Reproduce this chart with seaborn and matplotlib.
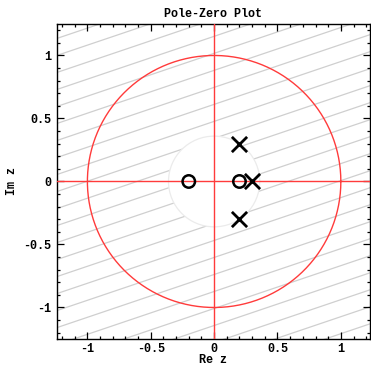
import matplotlib
matplotlib.use("Agg")
import matplotlib.pyplot as plt
import numpy as np
import pandas as pd
import seaborn as sns
from matplotlib.ticker import MultipleLocator

zeros_re = [-0.2, 0.2]
zeros_im = [0.0, 0.0]
poles_re = [0.3, 0.2, 0.2]
poles_im = [0.0, 0.3, -0.3]
roc_radius = 0.36
major_ticks = [-1, -0.5, 0, 0.5, 1]
tick_labels = ["-1", "-0.5", "0", "0.5", "1"]

frame = pd.DataFrame({
    "re": zeros_re + poles_re,
    "im": zeros_im + poles_im,
    "kind": ["zero"] * len(zeros_re) + ["pole"] * len(poles_re),
})

mono = {"family": "Liberation Mono", "weight": "bold"}
fsize = 8.5

fig = plt.figure(figsize=(3.71, 3.66), dpi=100)
ax = fig.add_axes([0.1536, 0.0738, 0.8437, 0.8607])
xlim = (-1.24, 1.23)
ylim = (-1.25, 1.25)

# region of convergence hatching (|z| > roc_radius)
slope = 0.34
gap = 0.135
xs = np.array([xlim[0] - 0.1, xlim[1] + 0.1])
for c in np.arange(1.287 - 22 * gap, 1.287 + 4 * gap, gap):
    ax.plot(xs, slope * xs + c, color="#cfcfcf", lw=0.9, zorder=1)
ax.add_patch(plt.Circle((0, 0), roc_radius, facecolor="white",
                        edgecolor="#ebebeb", lw=0.9, zorder=2))

# unit circle and axes
t = np.linspace(0, 2 * np.pi, 400)
ax.plot(np.cos(t), np.sin(t), color="#ff3b3b", lw=1.0, zorder=3)
ax.axhline(0, color="#ff3b3b", lw=1.0, zorder=3)
ax.axvline(0, color="#ff3b3b", lw=1.0, zorder=3)

sns.scatterplot(data=frame[frame["kind"] == "zero"], x="re", y="im", ax=ax,
                marker="o", s=80, facecolor="none", edgecolor="black",
                linewidth=1.8, zorder=5, legend=False)
sns.scatterplot(data=frame[frame["kind"] == "pole"], x="re", y="im", ax=ax,
                marker="x", s=120, color="black", linewidth=2.0,
                zorder=5, legend=False)

ax.set_xlim(*xlim)
ax.set_ylim(*ylim)
ax.set_xticks(major_ticks)
ax.set_xticklabels(tick_labels, fontdict=mono, fontsize=fsize)
ax.set_yticks(major_ticks)
ax.set_yticklabels(tick_labels, fontdict=mono, fontsize=fsize)
ax.xaxis.set_minor_locator(MultipleLocator(0.1))
ax.yaxis.set_minor_locator(MultipleLocator(0.1))
ax.tick_params(which="both", direction="in", top=True, right=True, width=0.9)
ax.tick_params(which="major", length=5)
ax.tick_params(axis="x", which="major", pad=3)
ax.tick_params(axis="y", which="major", pad=4)
ax.tick_params(which="minor", length=2.5)
for spine in ax.spines.values():
    spine.set_linewidth(1.0)

ax.set_xlabel("Re z", fontdict=mono, fontsize=fsize, labelpad=-1)
ax.set_ylabel("Im z", fontdict=mono, fontsize=fsize, labelpad=4)
ax.set_title("Pole-Zero Plot", fontdict=mono, fontsize=fsize, pad=5)

fig.savefig("out.png", dpi=100)
